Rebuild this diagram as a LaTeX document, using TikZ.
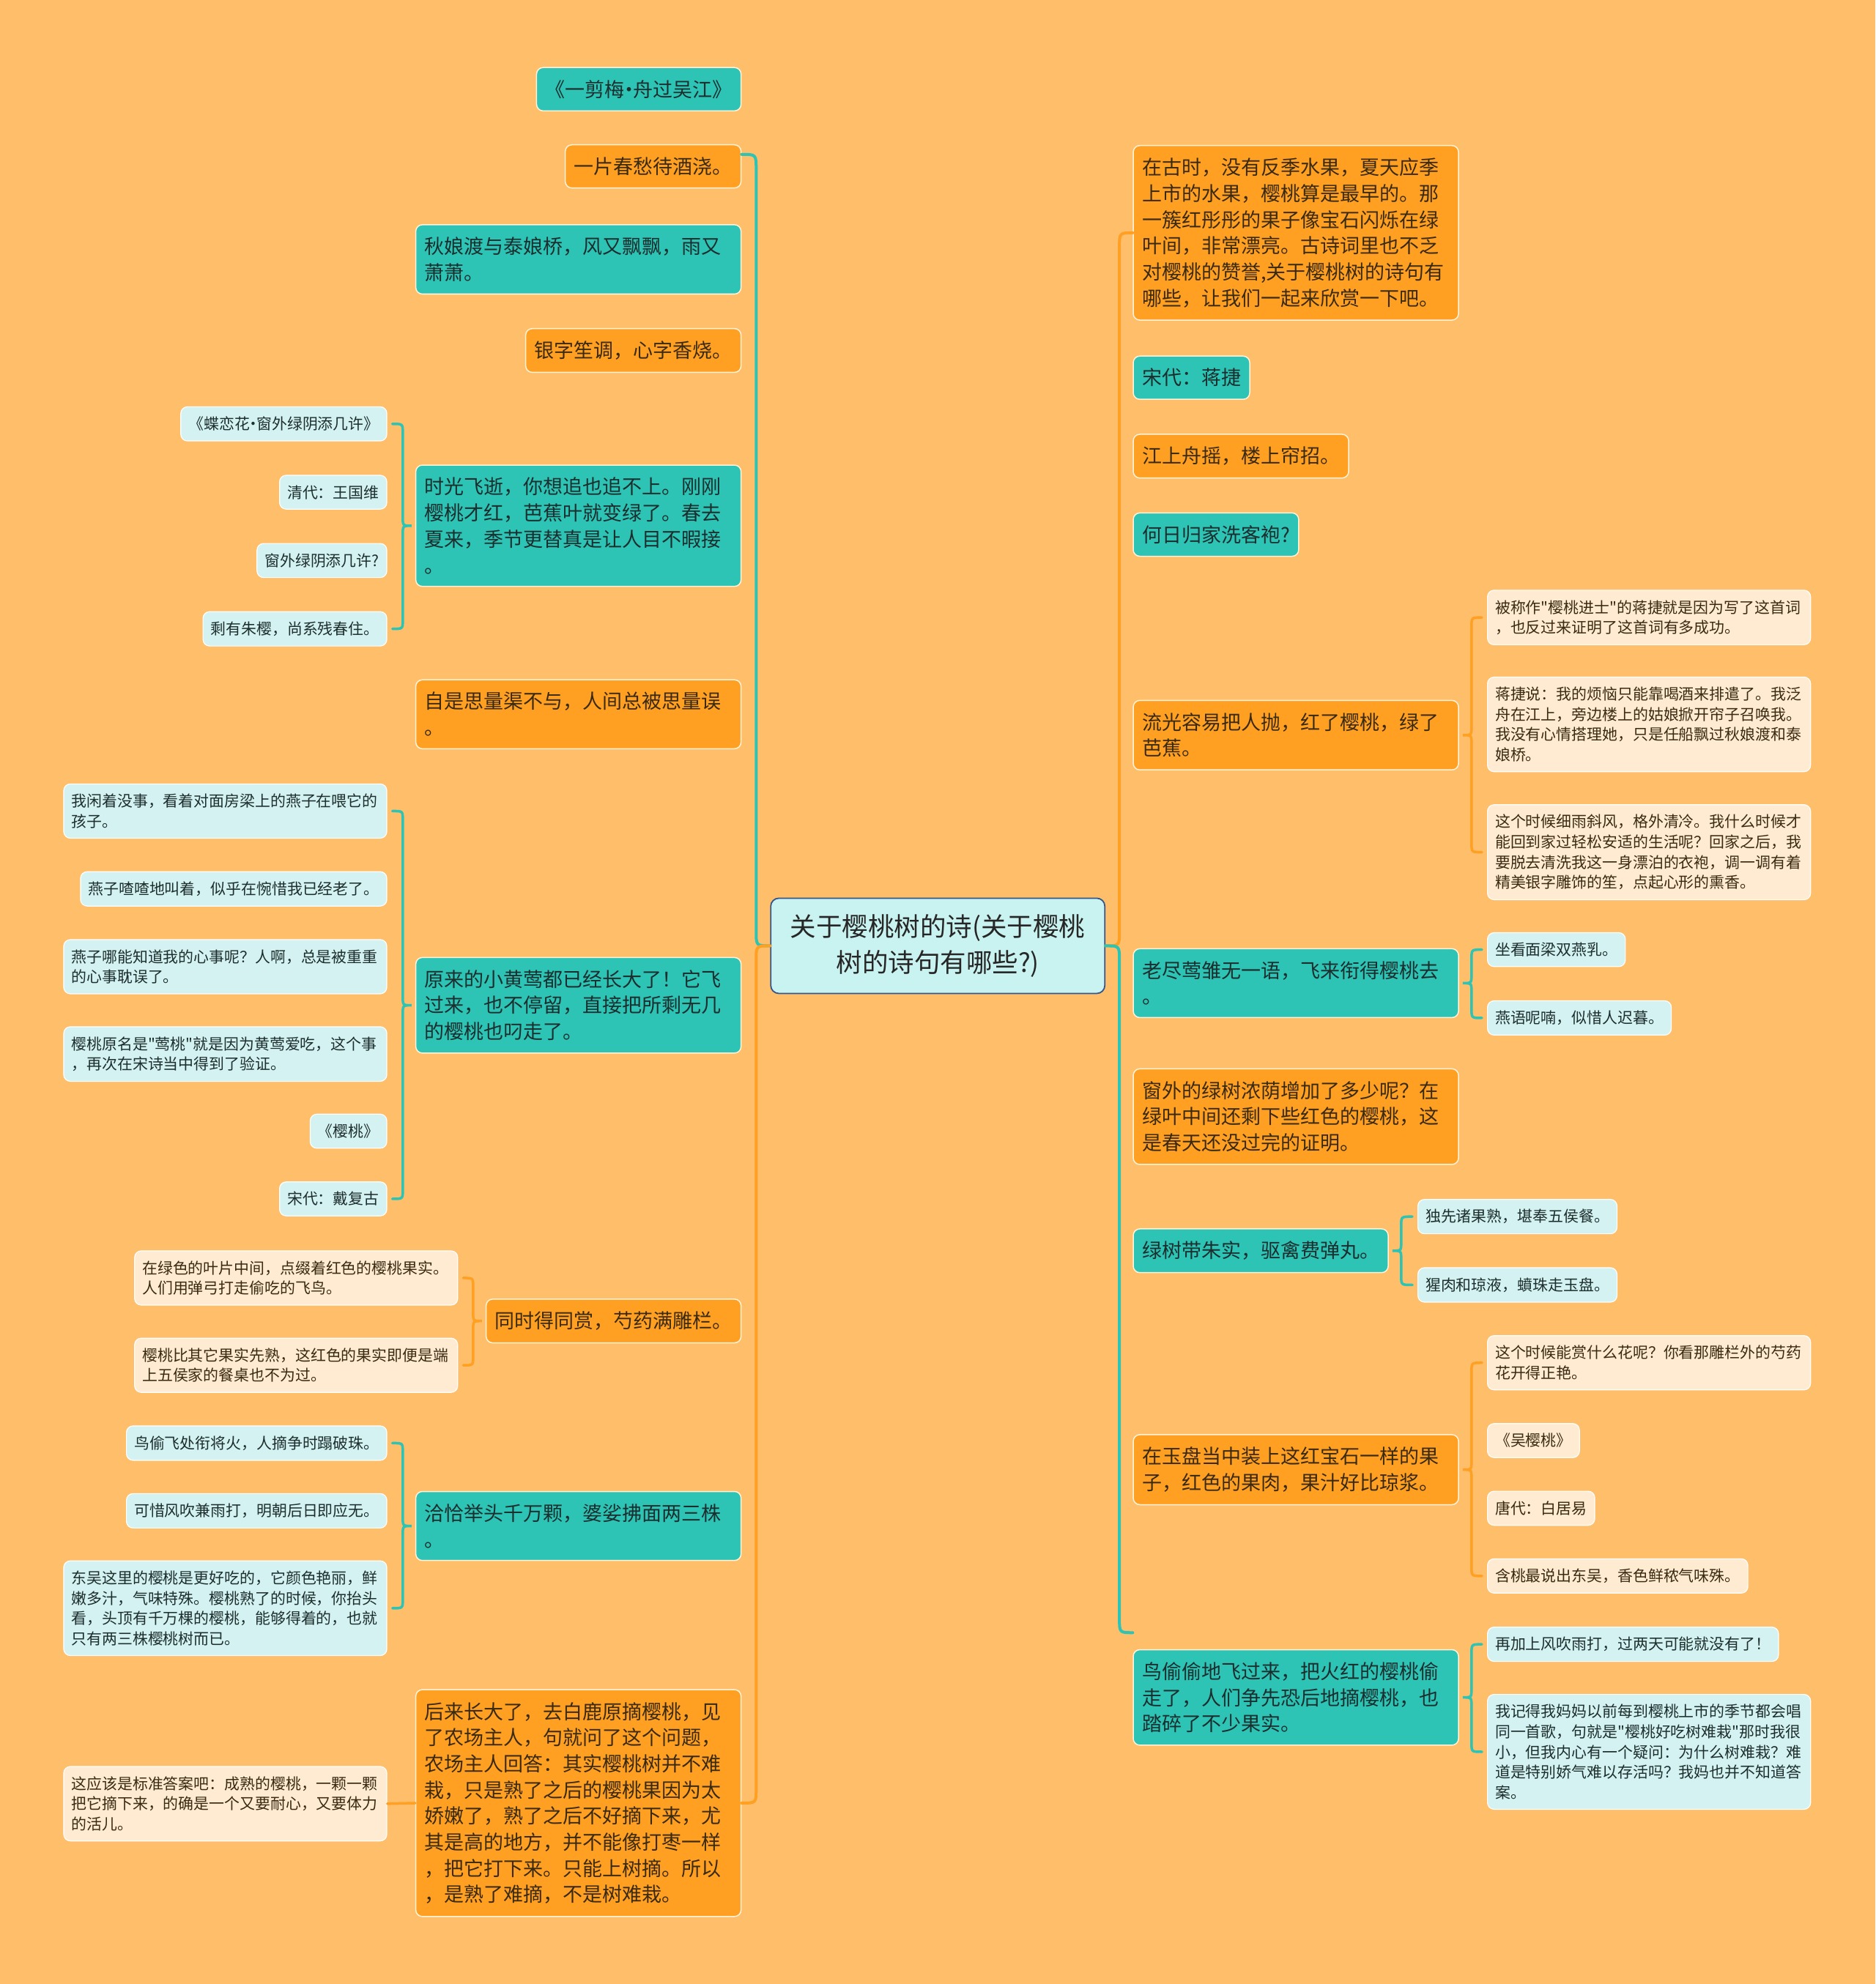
\documentclass[tikz,border=0pt]{standalone}
\usepackage{fontspec}
\setmainfont{Noto Sans CJK SC}[Ligatures=TeXOff]
\usetikzlibrary{calc}

\definecolor{bgc}{HTML}{FEBE6A}
\definecolor{tealc}{HTML}{2DC3B5}
\definecolor{orangec}{HTML}{FFA022}
\definecolor{cyanc}{HTML}{D4F2F1}
\definecolor{creamc}{HTML}{FEEBD1}
\definecolor{centrec}{HTML}{C9F3F0}
\definecolor{centreedge}{HTML}{34568B}
\definecolor{edgec}{HTML}{FFF3DA}
\definecolor{tealtxt}{HTML}{1C2E2D}
\definecolor{orangetxt}{HTML}{3A2A12}

\newcommand{\mainfs}{\fontsize{27pt}{35.7pt}\selectfont}
\newcommand{\leaffs}{\fontsize{20.9pt}{27.6pt}\selectfont}
\newcommand{\centrefs}{\fontsize{35.5pt}{48.4pt}\selectfont}
\newcommand{\middot}{\makebox[0.45em][c]{·}}

\tikzset{
	mainnode/.style={shape=rectangle, rounded corners=9pt, draw=edgec, line width=1.5pt, inner xsep=12pt, inner ysep=17pt, align=left, font=\mainfs},
	tealnode/.style={mainnode, fill=tealc, text=tealtxt},
	orangenode/.style={mainnode, fill=orangec, text=orangetxt},
	widebox/.style={text width=420pt},
	leafnode/.style={shape=rectangle, rounded corners=9pt, draw=white, line width=1.2pt, inner xsep=10.5pt, inner ysep=13.5pt, align=left, font=\leaffs},
	cyanleaf/.style={leafnode, fill=cyanc, text=tealtxt},
	creamleaf/.style={leafnode, fill=creamc, text=orangetxt},
	centrenode/.style={shape=rectangle, rounded corners=11pt, draw=centreedge, line width=1.8pt, fill=centrec, text=black!85, align=center, font=\centrefs, minimum width=456pt, minimum height=130pt, text width=430pt},
	trunk/.style={line width=4pt, line cap=round},
	brace/.style={line width=3.5pt, line cap=round}
}

% brace from a column of leaves to the parent on their right
\newcommand{\leafbraceL}[4]{%
	\draw[brace, #1] let \p1=(#2.east), \p2=(#3.east), \p3=(#4.west) in
		(\x1+7pt,\y1) .. controls (\x3-17pt,\y1) .. (\x3-17pt,\y1-12pt)
		-- (\x3-17pt,\y3+12pt) .. controls (\x3-17pt,\y3) .. (\x3-5pt,\y3)
		.. controls (\x3-17pt,\y3) .. (\x3-17pt,\y3-12pt)
		-- (\x3-17pt,\y2+12pt) .. controls (\x3-17pt,\y2) .. (\x2+7pt,\y2);}
% brace from a column of leaves to the parent on their left
\newcommand{\leafbraceR}[4]{%
	\draw[brace, #1] let \p1=(#2.west), \p2=(#3.west), \p3=(#4.east) in
		(\x1-7pt,\y1) .. controls (\x3+17pt,\y1) .. (\x3+17pt,\y1-12pt)
		-- (\x3+17pt,\y3+12pt) .. controls (\x3+17pt,\y3) .. (\x3+5pt,\y3)
		.. controls (\x3+17pt,\y3) .. (\x3+17pt,\y3-12pt)
		-- (\x3+17pt,\y2+12pt) .. controls (\x3+17pt,\y2) .. (\x2-7pt,\y2);}

\begin{document}
\begin{tikzpicture}[x=1.7274pt, y=-1.7274pt]
	\useasboundingbox (0,0) rectangle (1482,1568);
	\fill[bgc] (0,0) rectangle (1482,1568);

	% Centre:
	\node[centrenode] (centre) at (741,747.5) {关于樱桃树的诗(关于樱桃\\树的诗句有哪些?)};

	% Left branches:
	\node[tealnode, anchor=east] (l0) at (586,70.5) {《一剪梅\middot 舟过吴江》};
	\node[orangenode, anchor=east] (l1) at (586,131.5) {一片春愁待酒浇。};
	\node[tealnode, widebox, anchor=east] (l2) at (586,205) {秋娘渡与泰娘桥，风又飘飘，雨又\\萧萧。};
	\node[orangenode, anchor=east] (l3) at (586,277) {银字笙调，心字香烧。};
	\node[tealnode, widebox, anchor=east] (l4) at (586,415.5) {时光飞逝，你想追也追不上。刚刚\\樱桃才红，芭蕉叶就变绿了。春去\\夏来，季节更替真是让人目不暇接\\。};
	\node[orangenode, widebox, anchor=east] (l5) at (586,564.5) {自是思量渠不与，人间总被思量误\\。};
	\node[tealnode, widebox, anchor=east] (l6) at (586,794.5) {原来的小黄莺都已经长大了！它飞\\过来，也不停留，直接把所剩无几\\的樱桃也叼走了。};
	\node[orangenode, anchor=east] (l7) at (586,1044) {同时得同赏，芍药满雕栏。};
	\node[tealnode, widebox, anchor=east] (l8) at (586,1206) {洽恰举头千万颗，婆娑拂面两三株\\。};
	\node[orangenode, widebox, anchor=east] (l9) at (586,1425) {后来长大了，去白鹿原摘樱桃，见\\了农场主人，句就问了这个问题，\\农场主人回答：其实樱桃树并不难\\栽，只是熟了之后的樱桃果因为太\\娇嫩了，熟了之后不好摘下来，尤\\其是高的地方，并不能像打枣一样\\，把它打下来。只能上树摘。所以\\，是熟了难摘，不是树难栽。};

	% Left leaves:
	\node[cyanleaf, anchor=east] (l4a) at (306,335) {《蝶恋花\middot 窗外绿阴添几许》};
	\node[cyanleaf, anchor=east] (l4b) at (306,389) {清代：王国维};
	\node[cyanleaf, anchor=east] (l4c) at (306,443) {窗外绿阴添几许?};
	\node[cyanleaf, anchor=east] (l4d) at (306,497) {剩有朱樱，尚系残春住。};
	\node[cyanleaf, widebox, anchor=east] (l6a) at (306,641) {我闲着没事，看着对面房梁上的燕子在喂它的\\孩子。};
	\node[cyanleaf, anchor=east] (l6b) at (306,702.5) {燕子喳喳地叫着，似乎在惋惜我已经老了。};
	\node[cyanleaf, widebox, anchor=east] (l6c) at (306,764) {燕子哪能知道我的心事呢？人啊，总是被重重\\的心事耽误了。};
	\node[cyanleaf, widebox, anchor=east] (l6d) at (306,833) {樱桃原名是"莺桃"就是因为黄莺爱吃，这个事\\，再次在宋诗当中得到了验证。};
	\node[cyanleaf, anchor=east] (l6e) at (306,894) {《樱桃》};
	\node[cyanleaf, anchor=east] (l6f) at (306,947.5) {宋代：戴复古};
	\node[creamleaf, widebox, anchor=east] (l7a) at (362,1010) {在绿色的叶片中间，点缀着红色的樱桃果实。\\人们用弹弓打走偷吃的飞鸟。};
	\node[creamleaf, widebox, anchor=east] (l7b) at (362,1079) {樱桃比其它果实先熟，这红色的果实即便是端\\上五侯家的餐桌也不为过。};
	\node[cyanleaf, anchor=east] (l8a) at (306,1140.5) {鸟偷飞处衔将火，人摘争时蹋破珠。};
	\node[cyanleaf, anchor=east] (l8b) at (306,1194) {可惜风吹兼雨打，明朝后日即应无。};
	\node[cyanleaf, widebox, anchor=east] (l8c) at (306,1271) {东吴这里的樱桃是更好吃的，它颜色艳丽，鲜\\嫩多汁，气味特殊。樱桃熟了的时候，你抬头\\看，头顶有千万棵的樱桃，能够得着的，也就\\只有两三株樱桃树而已。};
	\node[creamleaf, widebox, anchor=east] (l9a) at (306,1425.5) {这应该是标准答案吧：成熟的樱桃，一颗一颗\\把它摘下来，的确是一个又要耐心，又要体力\\的活儿。};

	% Right branches:
	\node[orangenode, widebox, anchor=west] (r1) at (895,184) {在古时，没有反季水果，夏天应季\\上市的水果，樱桃算是最早的。那\\一簇红彤彤的果子像宝石闪烁在绿\\叶间，非常漂亮。古诗词里也不乏\\对樱桃的赞誉,关于樱桃树的诗句有\\哪些，让我们一起来欣赏一下吧。};
	\node[tealnode, anchor=west] (r2) at (895,298.5) {宋代：蒋捷};
	\node[orangenode, anchor=west] (r3) at (895,360.5) {江上舟摇，楼上帘招。};
	\node[tealnode, anchor=west] (r4) at (895,422.5) {何日归家洗客袍?};
	\node[orangenode, widebox, anchor=west] (r5) at (895,581) {流光容易把人抛，红了樱桃，绿了\\芭蕉。};
	\node[tealnode, widebox, anchor=west] (r6) at (895,777) {老尽莺雏无一语，飞来衔得樱桃去\\。};
	\node[orangenode, widebox, anchor=west] (r7) at (895,882.5) {窗外的绿树浓荫增加了多少呢？在\\绿叶中间还剩下些红色的樱桃，这\\是春天还没过完的证明。};
	\node[tealnode, anchor=west] (r8) at (895,988.5) {绿树带朱实，驱禽费弹丸。};
	\node[orangenode, widebox, anchor=west] (r9) at (895,1161.5) {在玉盘当中装上这红宝石一样的果\\子，红色的果肉，果汁好比琼浆。};
	\node[tealnode, widebox, anchor=west] (r10) at (895,1341.5) {鸟偷偷地飞过来，把火红的樱桃偷\\走了，人们争先恐后地摘樱桃，也\\踏碎了不少果实。};

	% Right leaves:
	\node[creamleaf, widebox, anchor=west] (r5a) at (1175,488) {被称作"樱桃进士"的蒋捷就是因为写了这首词\\，也反过来证明了这首词有多成功。};
	\node[creamleaf, widebox, anchor=west] (r5b) at (1175,572.5) {蒋捷说：我的烦恼只能靠喝酒来排遣了。我泛\\舟在江上，旁边楼上的姑娘掀开帘子召唤我。\\我没有心情搭理她，只是任船飘过秋娘渡和泰\\娘桥。};
	\node[creamleaf, widebox, anchor=west] (r5c) at (1175,673.5) {这个时候细雨斜风，格外清冷。我什么时候才\\能回到家过轻松安适的生活呢？回家之后，我\\要脱去清洗我这一身漂泊的衣袍，调一调有着\\精美银字雕饰的笙，点起心形的熏香。};
	\node[cyanleaf, anchor=west] (r6a) at (1175,750.5) {坐看面梁双燕乳。};
	\node[cyanleaf, anchor=west] (r6b) at (1175,804.5) {燕语呢喃，似惜人迟暮。};
	\node[cyanleaf, anchor=west] (r8a) at (1120,961.5) {独先诸果熟，堪奉五侯餐。};
	\node[cyanleaf, anchor=west] (r8b) at (1120,1015.5) {猩肉和琼液，蟦珠走玉盘。};
	\node[creamleaf, widebox, anchor=west] (r9a) at (1175,1077) {这个时候能赏什么花呢？你看那雕栏外的芍药\\花开得正艳。};
	\node[creamleaf, anchor=west] (r9b) at (1175,1138.5) {《吴樱桃》};
	\node[creamleaf, anchor=west] (r9c) at (1175,1192) {唐代：白居易};
	\node[creamleaf, anchor=west] (r9d) at (1175,1245.5) {含桃最说出东吴，香色鲜秾气味殊。};
	\node[cyanleaf, anchor=west] (r10a) at (1175,1299.5) {再加上风吹雨打，过两天可能就没有了！};
	\node[cyanleaf, widebox, anchor=west] (r10b) at (1175,1384.5) {我记得我妈妈以前每到樱桃上市的季节都会唱\\同一首歌，句就是"樱桃好吃树难栽"那时我很\\小，但我内心有一个疑问：为什么树难栽？难\\道是特别娇气难以存活吗？我妈也并不知道答\\案。};

	% Trunks from the centre:
	\draw[trunk, tealc] let \p1=(centre.west), \p2=(l1.east) in
		(\p1) .. controls (\x1-19pt,\y1) .. (\x1-19pt,\y1+20pt) -- (\x1-19pt,\y2-4.3pt) .. controls (\x1-19pt,\y2+16.4pt) .. (\x2,\y2+16.4pt);
	\draw[trunk, orangec] let \p1=(centre.west), \p2=(l9.east) in
		(\p1) .. controls (\x1-19pt,\y1) .. (\x1-19pt,\y1-20pt) -- (\x1-19pt,\y2+20pt) .. controls (\x1-19pt,\y2) .. (\x2,\y2);
	\draw[trunk, orangec] let \p1=(centre.east), \p2=(r1.west) in
		(\p1) .. controls (\x1+19pt,\y1) .. (\x1+19pt,\y1+20pt) -- (\x1+19pt,\y2-20pt) .. controls (\x1+19pt,\y2) .. (\x2,\y2);
	\draw[trunk, tealc] let \p1=(centre.east), \p2=(r10.north west) in
		(\p1) .. controls (\x1+19pt,\y1) .. (\x1+19pt,\y1-20pt) -- (\x1+19pt,\y2+42.5pt) .. controls (\x1+19pt,\y2+22.5pt) .. (\x2,\y2+22.5pt);

	% Braces to the leaves:
	\leafbraceL{tealc}{l4a}{l4d}{l4}
	\leafbraceL{tealc}{l6a}{l6f}{l6}
	\leafbraceL{orangec}{l7a}{l7b}{l7}
	\leafbraceL{tealc}{l8a}{l8c}{l8}
	\draw[brace, orangec] (l9a.east) -- (l9.west);
	\leafbraceR{orangec}{r5a}{r5c}{r5}
	\leafbraceR{tealc}{r6a}{r6b}{r6}
	\leafbraceR{tealc}{r8a}{r8b}{r8}
	\leafbraceR{orangec}{r9a}{r9d}{r9}
	\leafbraceR{tealc}{r10a}{r10b}{r10}
\end{tikzpicture}
\end{document}
